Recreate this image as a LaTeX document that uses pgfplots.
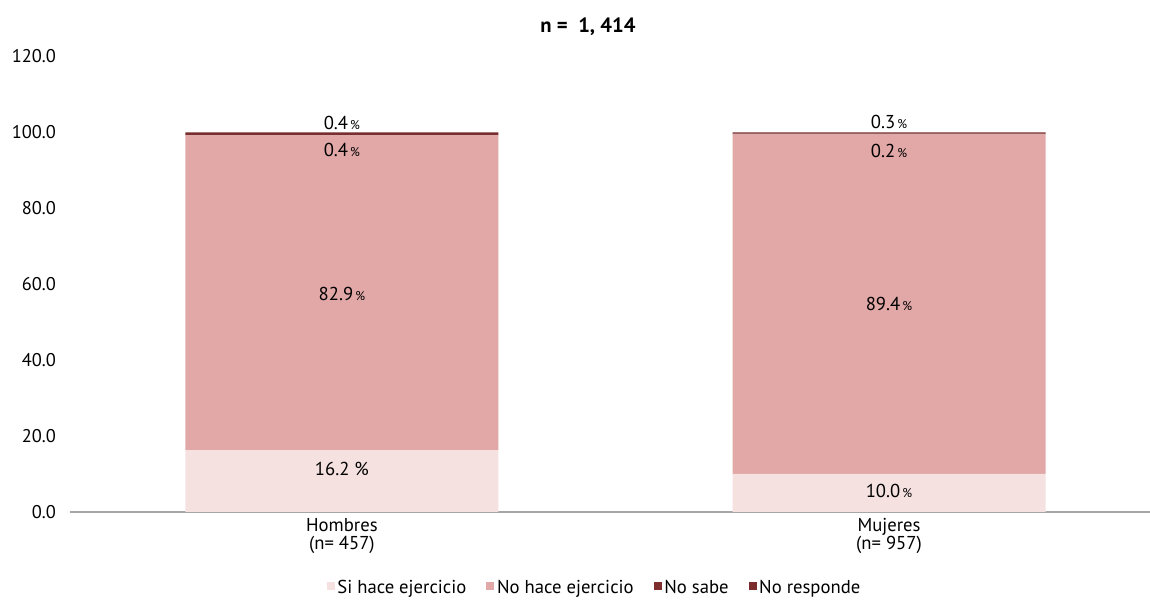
\documentclass[border=0pt]{standalone}
\usepackage{pgfplots}
\pgfplotsset{compat=1.18}
\usepackage{pgfplotstable}
\usepackage{fontspec}
\setmainfont{PT Sans}
\definecolor{cSi}{HTML}{F4E1E0}
\definecolor{cNo}{HTML}{E1A8A7}
\definecolor{cNs}{HTML}{7E2E2E}
\definecolor{cNr}{HTML}{7A2C2C}
\definecolor{axgray}{HTML}{A6A6A6}
\pgfplotstableread{
x si no ns nr
0 16.2 82.9 0.4 0.4
1 10.0 89.4 0.2 0.3
}\ejtable
\newcommand{\smp}{{\fontsize{9.5}{10}\selectfont\,\%}}
\begin{document}
\begin{tikzpicture}[x=1pt,y=1pt]
\useasboundingbox (0,0) rectangle (862.5,450);
\node[font=\bfseries\fontsize{15.5}{17}\selectfont] at (441,429.75) {n = \ 1, 414};
\begin{axis}[
  at={(52.5pt,66pt)}, anchor=south west,
  scale only axis, width=810pt, height=342pt,
  ybar stacked, bar width=234.75pt,
  xmin=-0.497, xmax=1.477, ymin=0, ymax=120,
  ytick={0,20,...,120},
  yticklabel={\pgfmathprintnumber[fixed,fixed zerofill,precision=1]{\tick}},
  /pgf/number format/assume math mode=true,
  xtick={0,1},
  xticklabels={{Hombres\\(n= 457)},{Mujeres\\(n= 957)}},
  xticklabel style={align=center, font=\fontsize{14}{13.5}\selectfont, yshift=-1pt},
  yticklabel style={font=\fontsize{13.8}{15}\selectfont, xshift=-7pt},
  axis lines*=left,
  x axis line style={draw=axgray, line width=1pt},
  y axis line style={draw=none},
  major tick length=0pt,
  legend style={at={(0.486,-0.167)}, anchor=center, draw=none, fill=none,
    font=\fontsize{14}{15}\selectfont,
    /tikz/every even column/.append style={column sep=13pt}},
  legend columns=4,
  legend cell align=left,
  legend image code/.code={\fill[#1] (0pt,-1.5pt) rectangle (6pt,4.5pt);},
  clip=false,
]
\addplot[fill=cSi, draw=none] table[x=x,y=si] {\ejtable};
\addplot[fill=cNo, draw=none] table[x=x,y=no] {\ejtable};
\addplot[fill=cNs, draw=none] table[x=x,y=ns] {\ejtable};
\addplot[fill=cNr, draw=none] table[x=x,y=nr] {\ejtable};
\legend{Si hace ejercicio, No hace ejercicio, No sabe, No responde}
\coordinate (h4) at (axis cs:0,102.4);
\coordinate (h3) at (axis cs:0,95.3);
\coordinate (h2) at (axis cs:0,57.4);
\coordinate (h1) at (axis cs:0,11.3);
\coordinate (m4) at (axis cs:1,102.6);
\coordinate (m3) at (axis cs:1,95.0);
\coordinate (m2) at (axis cs:1,54.7);
\coordinate (m1) at (axis cs:1,5.5);
\end{axis}
\begin{scope}[every node/.style={font=\fontsize{14}{15}\selectfont}]
\node at (h4) {0.4\smp};
\node at (h3) {0.4\smp};
\node at (h2) {82.9\smp};
\node at (h1) {16.2 \%};
\node at (m4) {0.3\smp};
\node at (m3) {0.2\smp};
\node at (m2) {89.4\smp};
\node at (m1) {10.0\smp};
\end{scope}
\end{tikzpicture}
\end{document}
